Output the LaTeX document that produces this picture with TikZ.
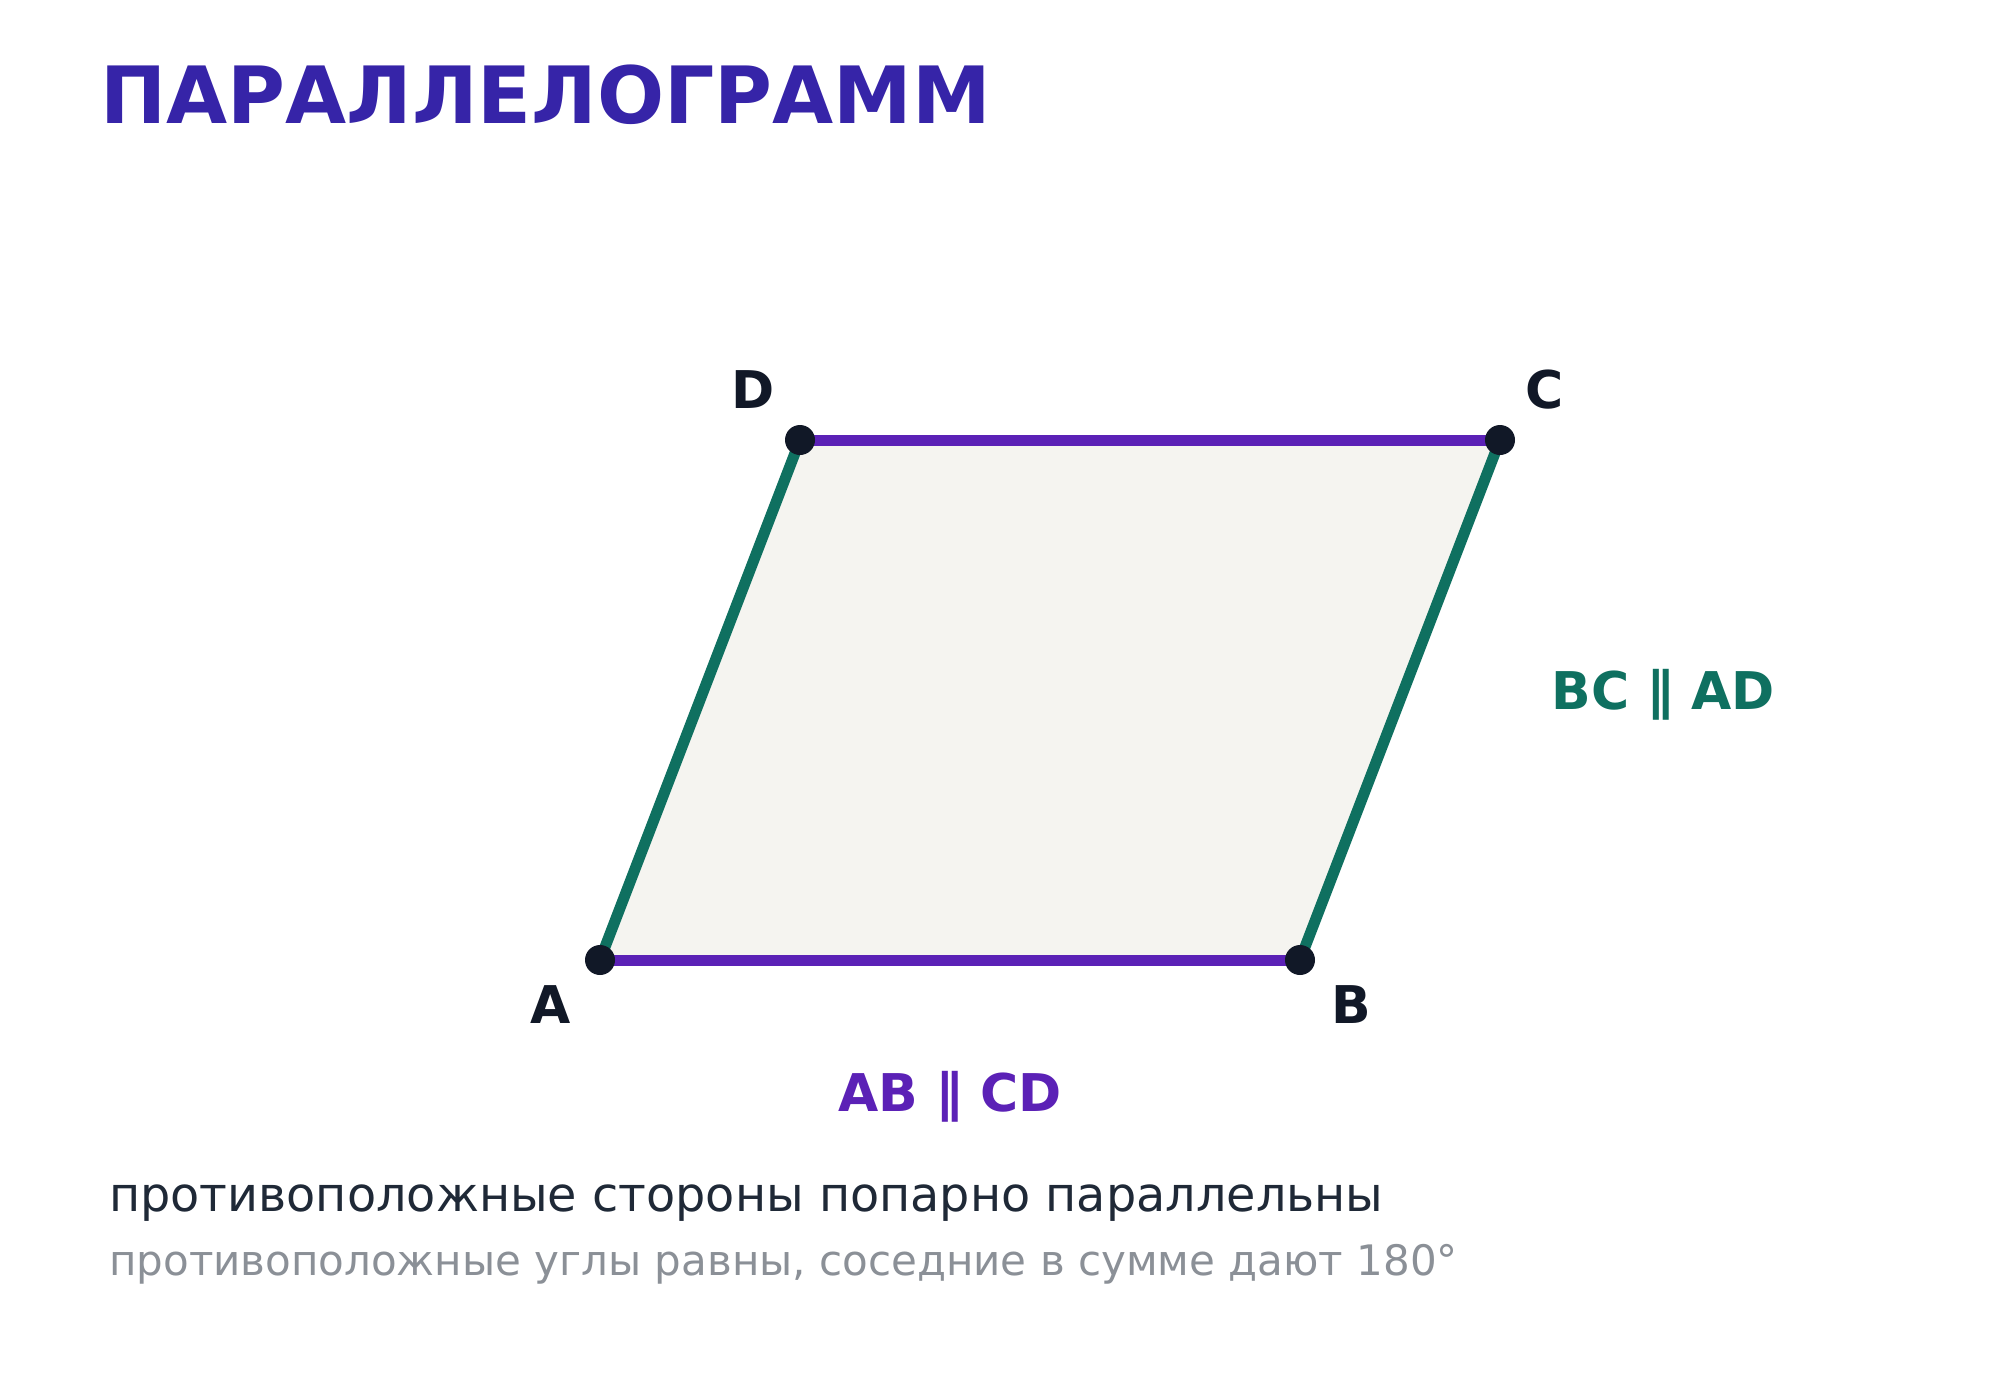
\documentclass[tikz,border=0pt]{standalone}
\usepackage{fontspec}
\setmainfont{DejaVu Sans}
\usetikzlibrary{positioning}
\definecolor{titelblau}{RGB}{54,36,168}
\definecolor{lila}{RGB}{91,33,182}
\definecolor{teal}{RGB}{15,112,96}
\definecolor{dunkel}{RGB}{17,24,39}
\definecolor{text}{RGB}{31,41,55}
\definecolor{grau}{RGB}{139,144,151}
\definecolor{flaeche}{RGB}{245,244,240}
\tikzset{
	%Define style for the title
	titel/.style={
		inner sep=0pt,
		text=titelblau,
		font=\fontsize{79}{90}\selectfont\bfseries},
	%Define style for corner points
	punkt/.style={
		circle,
		fill=dunkel,
		inner sep=0pt,
		minimum size=30pt},
	%Define style for corner letters
	ecke/.style={
		inner sep=0pt,
		text=dunkel,
		font=\fontsize{52}{60}\selectfont\bfseries},
	% Define side style
	seite/.style={
		line width=11pt,
		line cap=butt},
	% Define style for parallel labels
	par/.style={
		inner sep=0pt,
		font=\fontsize{52}{60}\selectfont\bfseries}
}

\begin{document}
\begin{tikzpicture}[x=1pt, y=-1pt]
	\useasboundingbox[fill=white] (0,0) rectangle (2000,1400);
	
	\node[titel, anchor=base west] (titel) at (100,123) {ПАРАЛЛЕЛОГРАММ};
	
	\coordinate (A) at (600,960);
	\coordinate (B) at (1300,960);
	\coordinate (C) at (1500,440);
	\coordinate (D) at (800,440);
	
	\fill[flaeche] (A) -- (B) -- (C) -- (D) -- cycle;
	
	\draw[seite, teal] (A) -- (D);
	\draw[seite, teal] (B) -- (C) node[midway, right=146pt, yshift=5pt, text=teal, par] (bcad) {BC ∥ AD};
	\draw[seite, lila] (A) -- (B) node[midway, below=106pt, text=lila, par] (abcd) {AB ∥ CD};
	\draw[seite, lila] (D) -- (C);
	
	\node[punkt] (pA) at (A) {};
	\node[punkt] (pB) at (B) {};
	\node[punkt] (pC) at (C) {};
	\node[punkt] (pD) at (D) {};
	
	\node[ecke, below left = 25pt and 29pt of A] (lA) {A};
	\node[ecke, below right = 25pt and 31pt of B] (lB) {B};
	\node[ecke, above right = 31pt and 25pt of C] (lC) {C};
	\node[ecke, above left = 31pt and 25pt of D] (lD) {D};
	
	\node[anchor=base west, inner sep=0pt, text=text, font=\fontsize{47.7}{56}\selectfont] (zeile1) at (109,1211) {противоположные стороны попарно параллельны};
	\node[anchor=base west, inner sep=0pt, text=grau, font=\fontsize{42}{50}\selectfont] (zeile2) at ([yshift=-64pt]zeile1.base west) {противоположные углы равны, соседние в сумме дают 180°};
	
\end{tikzpicture}
\end{document}
